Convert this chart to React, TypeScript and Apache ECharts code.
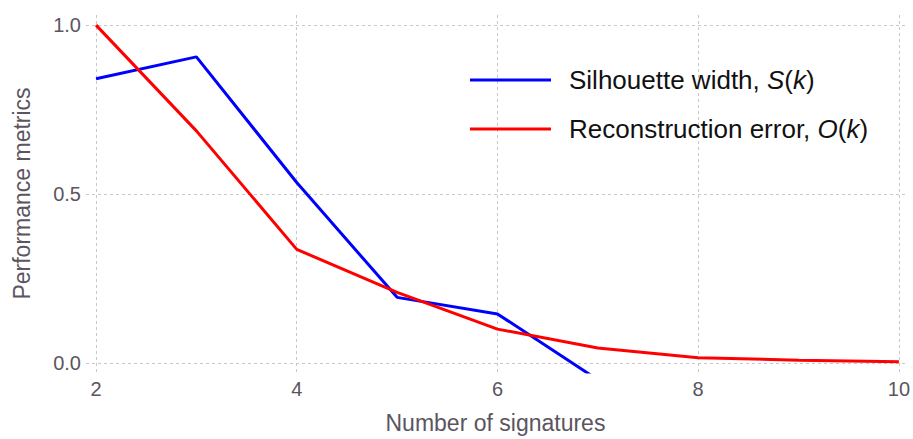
import React, { useEffect, useRef } from "react";
import * as echarts from "echarts";

const kValues = [2, 3, 4, 5, 6, 7, 8, 9, 10];
const silhouette = [0.841, 0.906, 0.534, 0.194, 0.145, -0.05];
const reconstruction = [1.0, 0.687, 0.336, 0.209, 0.1, 0.044, 0.015, 0.008, 0.003];
const xTicks = [2, 4, 6, 8, 10];
const yTicks = [0, 0.5, 1.0];
const seriesNames = ["Silhouette width, S(k)", "Reconstruction error, O(k)"];

const axisColor = "#5b5560";
const font = "Liberation Sans, Arial, Helvetica, sans-serif";

export default function App() {
  const ref = useRef<HTMLDivElement>(null);
  useEffect(() => {
    if (!ref.current) return;
    const chart = echarts.init(ref.current, undefined, { renderer: "svg" });
    const gridLine = { show: true, lineStyle: { color: "#c8c8cc", type: [3, 3] as any, width: 1 } };
    chart.setOption({
      animation: false,
      backgroundColor: "#ffffff",
      textStyle: { fontFamily: font },
      grid: { left: 86, right: 5, top: 15, bottom: 66, containLabel: false },
      legend: {
        orient: "vertical",
        left: 465,
        top: 62,
        itemWidth: 81,
        itemHeight: 3,
        itemGap: 23,
        icon: "rect",
        data: seriesNames,
        textStyle: {
          fontFamily: font,
          fontSize: 26,
          color: "#111111",
          padding: [0, 0, 0, 13],
          rich: {
            n: { fontFamily: font, fontSize: 26, color: "#111111" },
            i: { fontFamily: font, fontSize: 26, color: "#111111", fontStyle: "italic" },
          },
        },
        formatter: (name: string) => {
          if (name === seriesNames[0]) return "{n|Silhouette width, }{i|S}{n|(}{i|k}{n|)}";
          return "{n|Reconstruction error, }{i|O}{n|(}{i|k}{n|)}";
        },
      },
      xAxis: {
        type: "value",
        min: 1.9,
        max: 10.06,
        name: "Number of signatures",
        nameLocation: "middle",
        nameGap: 39,
        nameTextStyle: { fontSize: 23, color: axisColor, fontFamily: font },
        axisLine: { show: false },
        axisTick: { show: false, customValues: xTicks },
        axisLabel: { customValues: xTicks, fontSize: 20, color: axisColor, margin: 7, fontFamily: font },
        splitLine: gridLine,
      },
      yAxis: {
        type: "value",
        min: -0.027,
        max: 1.03,
        name: "Performance metrics",
        nameLocation: "middle",
        nameGap: 53,
        nameTextStyle: { fontSize: 23, color: axisColor, fontFamily: font },
        axisLine: { show: false },
        axisTick: { show: false, customValues: yTicks },
        axisLabel: {
          customValues: yTicks,
          fontSize: 20,
          color: axisColor,
          margin: 5,
          fontFamily: font,
          formatter: (v: number) => v.toFixed(1),
        },
        splitLine: gridLine,
      },
      series: [
        {
          name: seriesNames[0],
          type: "line",
          data: silhouette.map((v, i) => [kValues[i], v]),
          showSymbol: false,
          symbol: "none",
          clip: true,
          lineStyle: { color: "#0000ff", width: 3 },
          itemStyle: { color: "#0000ff" },
        },
        {
          name: seriesNames[1],
          type: "line",
          data: reconstruction.map((v, i) => [kValues[i], v]),
          showSymbol: false,
          symbol: "none",
          clip: true,
          lineStyle: { color: "#ff0000", width: 3 },
          itemStyle: { color: "#ff0000" },
        },
      ],
    });
    return () => chart.dispose();
  }, []);
  return <div ref={ref} style={{ width: 913, height: 439, position: "absolute", left: 0, top: 0 }} />;
}
